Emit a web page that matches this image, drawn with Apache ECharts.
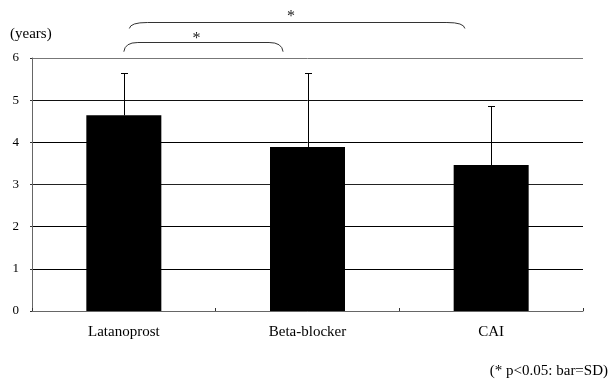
<!DOCTYPE html>
<html>
<head>
<meta charset="utf-8">
<script src="https://cdn.jsdelivr.net/npm/echarts@6/dist/echarts.min.js"></script>
<style>html,body{margin:0;padding:0;background:#fff}#c{width:611px;height:385px}</style>
</head>
<body>
<div id="c"></div>
<script>
var categories = ['Latanoprost', 'Beta-blocker', 'CAI'];
var means = [4.64, 3.89, 3.46];
var sds = [1.0, 1.75, 1.41];
var yTicks = [0, 1, 2, 3, 4, 5, 6];
var sigLabel = '*';
var footnote = '(* p<0.05: bar=SD)';
var yName = '(years)';

var FONT = '"Liberation Serif", "DejaVu Serif", serif';
var chart = echarts.init(document.getElementById('c'), null, {renderer: 'canvas'});

chart.setOption({
  animation: false,
  backgroundColor: '#fff',
  grid: {left: 32, right: 28, top: 58, bottom: 74, containLabel: false},
  xAxis: {
    type: 'category',
    data: categories,
    axisLine: {lineStyle: {color: '#666', width: 1}},
    axisTick: {show: true, inside: true, length: 3, lineStyle: {color: '#333'}},
    axisLabel: {color: '#000', fontFamily: FONT, fontSize: 15, margin: 14}
  },
  yAxis: {
    type: 'value',
    min: yTicks[0],
    max: yTicks[yTicks.length - 1],
    interval: 1,
    axisLine: {show: true, lineStyle: {color: '#666', width: 1}},
    axisTick: {show: true, length: 2, lineStyle: {color: '#333'}},
    axisLabel: {color: '#000', fontFamily: FONT, fontSize: 13, margin: 13},
    splitLine: {show: true, lineStyle: {color: ['#777', '#000', '#000', '#222', '#000', '#111', '#777'], width: 1}}
  },
  series: [
    {
      type: 'bar',
      data: means,
      barWidth: 75,
      itemStyle: {color: '#000'},
      z: 2
    },
    {
      type: 'custom',
      data: means.map(function (m, i) { return [i, m, m + sds[i]]; }),
      renderItem: function (params, api) {
        var i = api.value(0);
        var p0 = api.coord([i, api.value(1)]);
        var p1 = api.coord([i, api.value(2)]);
        var x = Math.round(p0[0]) + 0.5;
        var yt = Math.round(p1[1]) + 0.5;
        return {
          type: 'group',
          children: [
            {type: 'line', shape: {x1: x, y1: p0[1], x2: x, y2: yt}, style: {stroke: '#000', lineWidth: 1}},
            {type: 'line', shape: {x1: x - 3.5, y1: yt, x2: x + 3.5, y2: yt}, style: {stroke: '#000', lineWidth: 1}}
          ]
        };
      },
      z: 3
    }
  ]
});

function xPix(v) {
  var a = chart.convertToPixel({xAxisIndex: 0}, 0);
  var b = chart.convertToPixel({xAxisIndex: 0}, 1);
  return a + (b - a) * v;
}
function yPix(v) {
  var a = chart.convertToPixel({yAxisIndex: 0}, 0);
  var b = chart.convertToPixel({yAxisIndex: 0}, 6);
  return a + (b - a) * v / 6;
}
var bStyle = {fill: null, stroke: '#333', lineWidth: 1};
function bracket(x1v, x2v, yTopV, yEndV, r) {
  var x1 = xPix(x1v), x2 = xPix(x2v), yt = Math.round(yPix(yTopV)) + 0.5, ye = yPix(yEndV);
  return [
    {type: 'bezierCurve', shape: {x1: x1, y1: ye, cpx1: x1 + 1, cpy1: yt, x2: x1 + r, y2: yt}, style: bStyle},
    {type: 'line', shape: {x1: x1 + r, y1: yt, x2: x2 - r, y2: yt}, style: bStyle},
    {type: 'bezierCurve', shape: {x1: x2 - r, y1: yt, cpx1: x2 - 1, cpy1: yt, x2: x2, y2: ye}, style: bStyle}
  ];
}
var g = [].concat(
  bracket(0.0, 0.867, 6.37, 6.15, 14),
  bracket(0.03, 1.857, 6.85, 6.70, 18),
  [
    {type: 'text', x: (xPix(0) + xPix(0.867)) / 2 - 7, y: yPix(6.45), style: {text: sigLabel, font: '16px ' + FONT, fill: '#222', textAlign: 'center', textVerticalAlign: 'middle'}},
    {type: 'text', x: (xPix(0.03) + xPix(1.857)) / 2 - 6, y: yPix(6.98), style: {text: sigLabel, font: '16px ' + FONT, fill: '#222', textAlign: 'center', textVerticalAlign: 'middle'}},
    {type: 'text', x: 10, y: 34, style: {text: yName, font: '15px ' + FONT, fill: '#000', textAlign: 'left', textVerticalAlign: 'middle'}},
    {type: 'text', x: 608, y: 371, style: {text: footnote, font: '15px ' + FONT, fill: '#000', textAlign: 'right', textVerticalAlign: 'middle'}}
  ]
);
chart.setOption({graphic: g});
</script>
</body>
</html>
